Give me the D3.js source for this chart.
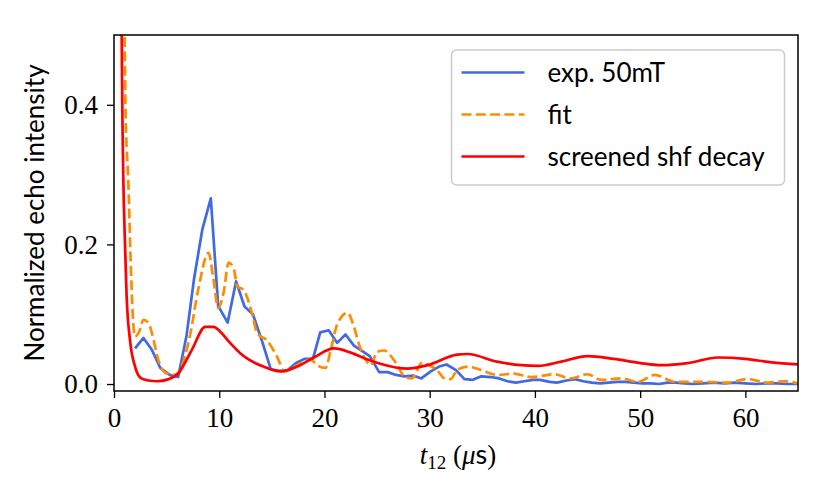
<!DOCTYPE html>
<html>
<head>
<meta charset="utf-8">
<script src="https://cdn.jsdelivr.net/npm/d3@7"></script>
<style>
  body { margin: 0; background: #fff; }
  .tick text { font-family: "Liberation Serif", serif; font-size: 27px; }
  .lab { font-family: "Lato", sans-serif; font-size: 26px; fill: #000; }
</style>
</head>
<body>
<div id="chart"></div>
<script>
// experimental echo, 50 mT
var expT = [2.0,2.8,3.6,4.4,5.3,6.1,6.9,7.6,8.4,9.2,9.9,10.8,11.6,12.4,13.2,14.1,14.9,15.7,16.5,17.3,18.1,18.9,19.6,20.4,21.2,22.0,22.8,23.6,24.3,25.2,26.0,26.8,27.6,28.5,29.2,30.1,30.9,31.6,32.5,33.3,34.1,34.9,35.8,36.6,37.4,38.2,39.0,39.8,40.5,41.4,42.1,43.0,43.8,44.6,45.4,46.2,47.0,47.8,48.6,49.4,50.2,51.0,51.8,52.6,53.4,54.2,55.0,56.0,57.0,58.0,59.0,60.0,61.0,62.0,63.0,64.0,65.0];
var expV = [0.051,0.066,0.049,0.023,0.013,0.010,0.070,0.150,0.222,0.266,0.112,0.088,0.147,0.111,0.100,0.060,0.021,0.019,0.020,0.030,0.036,0.036,0.074,0.077,0.059,0.071,0.055,0.047,0.040,0.017,0.017,0.013,0.011,0.012,0.008,0.018,0.025,0.028,0.020,0.007,0.006,0.011,0.010,0.008,0.004,0.002,0.004,0.006,0.006,0.003,0.002,0.005,0.007,0.004,0.002,0.001,0.002,0.003,0.003,0.002,0.001,0.001,0.000,0.002,0.002,0.001,0.000,0.001,0.002,0.001,0.002,0.001,0.000,0.001,0.001,0.000,0.000];

// fit
var fitT = [0.9,1.0,1.1,1.36,1.6,1.78,2.0,2.4,2.8,3.3,3.6,4.2,5.0,5.8,6.4,7.2,8.0,8.98,9.45,9.9,10.4,10.9,11.4,11.7,12.3,13.1,13.6,14.5,15.5,16.2,17.4,18.7,19.3,20.1,20.6,21.2,22.2,22.8,23.3,23.9,24.4,25.0,25.7,26.2,26.8,27.6,28.3,29.3,29.9,30.7,31.4,32.0,32.6,33.6,34.9,36.4,38.0,39.6,40.4,41.8,43.4,45.0,46.3,48.2,49.8,51.4,53.3,56.1,58.3,60.2,62.1,63.7,65.0];
var fitV = [0.62,0.50,0.39,0.29,0.17,0.10,0.068,0.075,0.092,0.087,0.073,0.035,0.015,0.013,0.025,0.068,0.135,0.188,0.150,0.109,0.130,0.174,0.164,0.140,0.135,0.102,0.073,0.063,0.039,0.018,0.027,0.035,0.027,0.023,0.049,0.085,0.102,0.082,0.056,0.035,0.027,0.046,0.048,0.042,0.030,0.011,0.008,0.031,0.027,0.020,0.008,0.007,0.020,0.025,0.020,0.013,0.015,0.010,0.011,0.014,0.008,0.014,0.006,0.008,0.003,0.013,0.003,0.003,0.002,0.007,0.002,0.004,0.001];

// screened shf decay
var shfT = [0.65,0.73,0.8,0.89,1.05,1.2,1.52,2.0,2.6,3.3,4.1,5.2,6.1,7.4,8.67,9.45,10.1,10.9,12.0,12.6,14.2,15.8,17.4,19.0,20.9,22.5,24.1,25.3,27.9,29.8,32.6,33.6,36.4,38.7,40.3,42.5,45.0,47.5,50.0,52.0,54.5,57.4,60.0,62.5,65.0];
var shfV = [0.60,0.50,0.38,0.29,0.198,0.126,0.063,0.025,0.008,0.005,0.004,0.007,0.015,0.049,0.082,0.082,0.075,0.061,0.044,0.037,0.025,0.018,0.025,0.038,0.051,0.045,0.035,0.029,0.022,0.027,0.042,0.043,0.032,0.027,0.026,0.032,0.040,0.036,0.030,0.027,0.030,0.038,0.036,0.031,0.028];

var xTicks = [0,10,20,30,40,50,60];
var yTicks = [0.0,0.2,0.4];
var seriesNames = ["exp. 50mT", "fit", "screened shf decay"];

var W = 830, H = 498;
var margin = {top: 35, right: 32, bottom: 107, left: 114};
var width = W - margin.left - margin.right, height = H - margin.top - margin.bottom;

var svg = d3.select("#chart").append("svg").attr("width", W).attr("height", H);
var g = svg.append("g").attr("transform", `translate(${margin.left},${margin.top})`);

var x = d3.scaleLinear().domain([0,65]).range([0,width]);
var y = d3.scaleLinear().domain([-0.01,0.5]).range([height,0]);

g.append("clipPath").attr("id","clip").append("rect").attr("width", width).attr("height", height);

var fmtX = d3.format("d"), fmtY = d3.format(".1f");

var series = [
  {t: expT, v: expV, color: "#4169e1", dash: null, curve: d3.curveLinear},
  {t: fitT, v: fitV, color: "#ff8c00", dash: "10,4.3", curve: d3.curveMonotoneX},
  {t: shfT, v: shfV, color: "#ff0000", dash: null, curve: d3.curveMonotoneX}
];

var plot = g.append("g").attr("clip-path","url(#clip)");
series.forEach(function(s) {
  var pts = s.t.map((t,i) => [t, s.v[i]]);
  var line = d3.line().x(d => x(d[0])).y(d => y(d[1])).curve(s.curve);
  plot.append("path").datum(pts).attr("fill","none").attr("stroke", s.color).attr("stroke-width", 2.7)
    .attr("stroke-dasharray", s.dash).attr("stroke-linejoin","round").attr("d", line);
});

var xAxis = g.append("g").attr("transform", `translate(0,${height})`)
  .call(d3.axisBottom(x).tickValues(xTicks).tickFormat(fmtX).tickSize(7).tickPadding(6));
var yAxis = g.append("g").call(d3.axisLeft(y).tickValues(yTicks).tickFormat(fmtY).tickSize(7).tickPadding(9));
[xAxis, yAxis].forEach(a => { a.select(".domain").remove(); a.selectAll(".tick line").attr("stroke","#000").attr("stroke-width",1.3); a.selectAll(".tick text").attr("fill","#000"); });
xAxis.selectAll(".tick text").attr("dy", "0.85em");

g.append("rect").attr("width", width).attr("height", height).attr("fill","none").attr("stroke","#000").attr("stroke-width",1.5);

// legend
var leg = g.append("g").attr("transform", `translate(${451.5-margin.left},${50-margin.top})`);
leg.append("rect").attr("width", 333).attr("height", 135).attr("rx", 5).attr("fill","#fff").attr("fill-opacity",0.8)
  .attr("stroke","#cccccc").attr("stroke-width",1.5);
series.forEach(function(s,i) {
  var yy = 22.5 + i*42;
  leg.append("line").attr("x1",10).attr("x2",73).attr("y1",yy).attr("y2",yy).attr("stroke",s.color)
    .attr("stroke-width",2.7).attr("stroke-dasharray", s.dash);
  leg.append("text").attr("class","lab").attr("x",96).attr("y",yy).attr("dy","0.35em").text(seriesNames[i]);
});

// axis labels
svg.append("text").attr("class","lab").attr("transform", `translate(44,${margin.top + height/2}) rotate(-90)`)
  .attr("text-anchor","middle").text("Normalized echo intensity");
var xl = svg.append("text").attr("x", margin.left + width/2 + 2).attr("y", 464).attr("text-anchor","middle")
  .style("font-family","'Liberation Serif', serif").style("font-size","27px");
xl.append("tspan").style("font-style","italic").text("t");
xl.append("tspan").attr("dy", 5).style("font-size","19px").text("12");
xl.append("tspan").attr("dy", -5).text(" (");
xl.append("tspan").style("font-style","italic").text("μ");
xl.append("tspan").style("font-family","Lato, sans-serif").text("s");
xl.append("tspan").text(")");
</script>
</body>
</html>
